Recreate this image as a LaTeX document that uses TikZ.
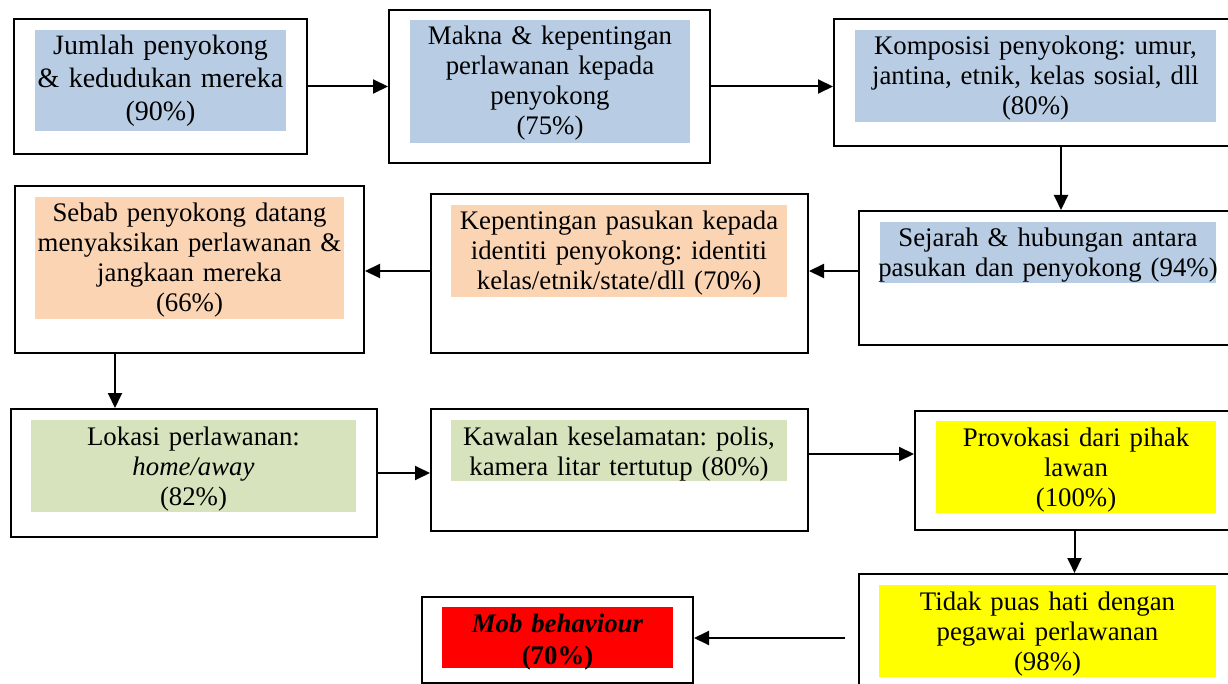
\documentclass[tikz,border=0pt]{standalone}
\usepackage{fontspec}
\setmainfont{Liberation Serif}
\usetikzlibrary{arrows.meta,fit}
\definecolor{fblue}{RGB}{184,204,228}
\definecolor{fpeach}{RGB}{251,212,180}
\definecolor{fgreen}{RGB}{215,227,188}
\definecolor{fyellow}{RGB}{255,255,0}
\definecolor{fred}{RGB}{255,0,0}
\newcommand{\firststrut}{\rule{0pt}{25pt}}
\frenchspacing
\tikzset{
  outerbox/.style={draw=black, line width=2pt, inner sep=0pt, fill=none},
  hlbox/.style={draw=none, inner sep=0pt},
  txt/.style={anchor=north, inner sep=0pt, align=center, text width=420pt,
    font=\fontsize{26.8}{30}\selectfont},
  arr/.style={line width=2pt, -{Triangle[length=15pt,width=14pt]}},
}
\begin{document}
\begin{tikzpicture}[x=1pt,y=-1pt]
\useasboundingbox (0,0) rectangle (1228,684);
% highlight fills
\node[hlbox, fill=fblue, fit={(35,30)(286,131)}] (f1) {};
\node[hlbox, fill=fblue, fit={(410,20)(690,143)}] (f2) {};
\node[hlbox, fill=fblue, fit={(855,30)(1216,122)}] (f3) {};
\node[hlbox, fill=fblue, fit={(880,222)(1216,283)}] (f4) {};
\node[hlbox, fill=fpeach, fit={(451,205)(787,297)}] (f5) {};
\node[hlbox, fill=fpeach, fit={(35,197)(344,319)}] (f6) {};
\node[hlbox, fill=fgreen, fit={(31,420)(356,512)}] (f7) {};
\node[hlbox, fill=fgreen, fit={(451,420)(787,481)}] (f8) {};
\node[hlbox, fill=fyellow, fit={(936,421)(1216,513)}] (f9) {};
\node[hlbox, fill=fyellow, fit={(879,585)(1216,677)}] (f10) {};
\node[hlbox, fill=fred, fit={(442,607)(673,668)}] (f11) {};
% outer boxes
\node[outerbox, fit={(14,19)(307,154)}] (b1) {};
\node[outerbox, fit={(389,10)(710,163)}] (b2) {};
\node[outerbox, fit={(834,19)(1234,146)}] (b3) {};
\node[outerbox, fit={(859,211)(1234,345)}] (b4) {};
\node[outerbox, fit={(431,194)(808,353)}] (b5) {};
\node[outerbox, fit={(15,186)(364,353)}] (b6) {};
\node[outerbox, fit={(11,409)(377,537)}] (b7) {};
\node[outerbox, fit={(431,409)(808,531)}] (b8) {};
\node[outerbox, fit={(915,411)(1234,530)}] (b9) {};
\node[outerbox, fit={(859,574)(1234,700)}] (b10) {};
\node[outerbox, fit={(422,597)(693,683)}] (b11) {};
% texts
\node[txt, font=\fontsize{28}{33}\selectfont] (t1) at (f1.north) {\firststrut Jumlah penyokong\\ \& kedudukan mereka\\ (90\%)};
\node[txt] (t2) at (f2.north) {\firststrut Makna \& kepentingan\\ perlawanan kepada\\ penyokong\\ (75\%)};
\node[txt] (t3) at (f3.north) {\firststrut Komposisi penyokong: umur,\\ jantina, etnik, kelas sosial, dll\\ (80\%)};
\node[txt] (t4) at (f4.north) {\firststrut Sejarah \& hubungan antara\\ pasukan dan penyokong (94\%)};
\node[txt] (t5) at (f5.north) {\firststrut Kepentingan pasukan kepada\\ identiti penyokong: identiti\\ kelas/etnik/state/dll (70\%)};
\node[txt] (t6) at (f6.north) {\firststrut Sebab penyokong datang\\ menyaksikan perlawanan \&\\ jangkaan mereka\\ (66\%)};
\node[txt] (t7) at (f7.north) {\firststrut Lokasi perlawanan:\\ \textit{home/away}\\ (82\%)};
\node[txt] (t8) at (f8.north) {\firststrut Kawalan keselamatan: polis,\\ kamera litar tertutup (80\%)};
\node[txt] (t9) at (f9.north) {\firststrut Provokasi dari pihak\\ lawan\\ (100\%)};
\node[txt] (t10) at (f10.north) {\firststrut Tidak puas hati dengan\\ pegawai perlawanan\\ (98\%)};
\node[txt, font=\fontsize{26.8}{32}\selectfont] (t11) at (f11.north) {\firststrut\textbf{\textit{Mob behaviour}}\\ \textbf{(70\%)}};
% helper coordinates
\coordinate (x34) at (1061,0);
\coordinate (y45) at (0,271);
\coordinate (x67) at (115,0);
\coordinate (y89) at (0,454);
\coordinate (y1011) at (0,638);
% connectors
\draw[arr] (b1.east) -- (b1.east -| b2.west);
\draw[arr] (b2.east) -- (b2.east -| b3.west);
\draw[arr] (x34 |- b3.south) -- (x34 |- b4.north);
\draw[arr] (b4.west |- y45) -- (b5.east |- y45);
\draw[arr] (b5.west |- y45) -- (b6.east |- y45);
\draw[arr] (x67 |- b6.south) -- (x67 |- b7.north);
\draw[arr] (b7.east) -- (b7.east -| b8.west);
\draw[arr] (b8.east |- y89) -- (b9.west |- y89);
\draw[arr] (b9.south) -- (b9.south |- b10.north);
\draw[arr, shorten <=13pt] (b10.west |- y1011) -- (b11.east |- y1011);
\end{tikzpicture}
\end{document}
